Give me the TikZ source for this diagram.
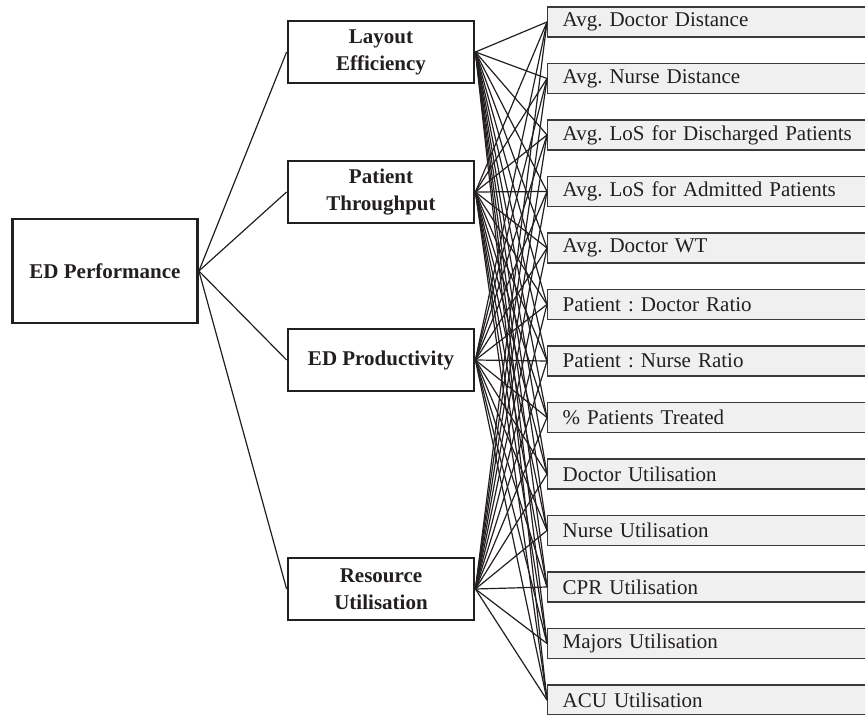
\documentclass[tikz,border=0pt]{standalone}
\usepackage{fontspec}
\setmainfont{Liberation Serif}
\usetikzlibrary{positioning}
\definecolor{ink}{HTML}{231F20}
\definecolor{kpifill}{HTML}{F0F0F0}
\definecolor{kpiedge}{HTML}{3A3A3A}
\frenchspacing

\begin{document}
\begin{tikzpicture}[
  x=0.5pt, y=-0.5pt,
  every node/.append style={text=ink, font=\fontsize{10.5}{13.5}\selectfont},
  top/.style={draw=ink, line width=1.4pt, fill=white, align=center,
    minimum width=92.5pt, minimum height=52pt, font=\fontsize{10.5}{13.5}\selectfont\bfseries},
  crit/.style={draw=ink, line width=1.4pt, fill=white, align=center,
    minimum width=93pt, minimum height=31pt, inner sep=1pt, font=\fontsize{10.5}{13.5}\selectfont\bfseries},
  kpi/.style={draw=kpiedge, line width=0.7pt, fill=kpifill, anchor=west,
    minimum width=170pt, minimum height=15pt, inner sep=0pt, text width=165pt, align=left},
  link/.style={draw=ink, line width=0.6pt},
]
\useasboundingbox (0,0) rectangle (865,715);
\clip (0,0) rectangle (865,715);
% goal
\node[top] (perf) at (105,271) {ED Performance};
% criteria
\node[crit] (layout) at (381,52) {Layout\\Efficiency};
\node[crit] (through) at (381,192) {Patient\\Throughput};
\node[crit] (prod) at (381,360) {ED Productivity};
\node[crit] (resource) at (381,589) {Resource\\Utilisation};
% indicators
\foreach \t [count=\i] in {Avg. Doctor Distance, Avg. Nurse Distance,
    Avg. LoS for Discharged Patients, Avg. LoS for Admitted Patients,
    Avg. Doctor WT, Patient : Doctor Ratio, Patient : Nurse Ratio,
    \% Patients Treated, Doctor Utilisation, Nurse Utilisation,
    CPR Utilisation, Majors Utilisation, ACU Utilisation}
  \node[kpi] (kpi\i) at (547,{22+(\i-1)*56.5}) {\hspace*{5pt}\t};
% links
\foreach \c in {layout, through, prod, resource} {
  \draw[link] (perf.east) -- (\c.west);
  \foreach \i in {1,...,13}
    \draw[link] (\c.east) -- (kpi\i.west);
}
\end{tikzpicture}
\end{document}
